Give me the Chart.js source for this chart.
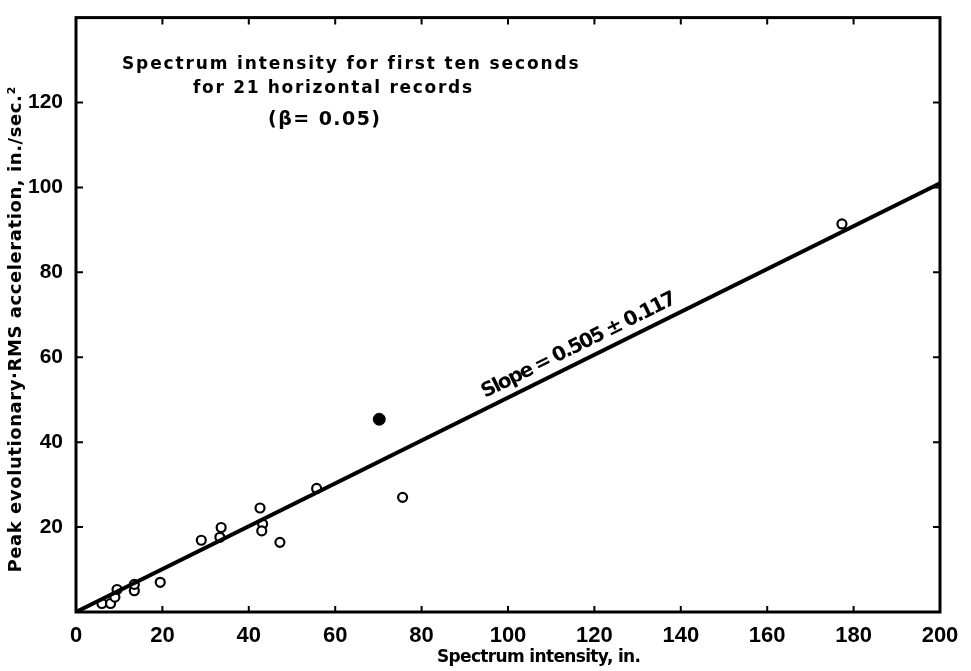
<!DOCTYPE html>
<html>
<head>
<meta charset="utf-8">
<script src="https://cdn.jsdelivr.net/npm/chart.js@4"></script>
<style>
  html, body { margin: 0; padding: 0; background: #fff; }
  canvas { display: block; }
</style>
</head>
<body>
<canvas id="intensityChart" width="971" height="671"></canvas>
<script>
// spectrum intensity (in.) vs peak evolutionary RMS acceleration (in./sec^2)
const recordIntensity = [6, 8, 9, 9.5, 13.5, 13.5, 19.5, 29, 33.3, 33.6, 42.6, 43.2, 43, 47.2, 55.7, 75.6, 177.3];
const recordAccel = [2, 2, 3.5, 5.3, 5, 6.5, 7, 16.9, 17.6, 19.9, 24.5, 20.7, 19.1, 16.4, 29.1, 27, 91.4];

// solid dot (coincident records)
const solidIntensity = [70.2];
const solidAccel = [45.4];

// fitted line through the origin
const slope = 0.505;
const slopeError = 0.117;
const fitRange = [0, 200];

const xTicks = [0, 20, 40, 60, 80, 100, 120, 140, 160, 180, 200];
const yTicks = [20, 40, 60, 80, 100, 120];

const titleLines = [
  "Spectrum intensity for first ten seconds",
  "for 21 horizontal records",
  "(\u03B2= 0.05)",
];

const toPoints = (xs, ys) => xs.map((x, i) => ({ x: x, y: ys[i] }));

const tickFont = "'Liberation Sans', sans-serif";
const letterFont = "'DejaVu Sans', sans-serif";

// frame, inward tick marks and all the lettering
const paperPlugin = {
  id: "paper",
  afterDatasetsDraw(chart) {
    const { ctx, chartArea: a, scales } = chart;
    const xs = scales.x;
    const ys = scales.y;
    ctx.save();
    ctx.strokeStyle = "#000";
    ctx.lineWidth = 3;
    ctx.strokeRect(a.left, a.top, a.right - a.left, a.bottom - a.top);

    ctx.lineWidth = 2;
    ctx.beginPath();
    xTicks.slice(1, -1).forEach((v) => {
      const px = xs.getPixelForValue(v);
      ctx.moveTo(px, a.bottom);
      ctx.lineTo(px, a.bottom - 6);
      ctx.moveTo(px, a.top);
      ctx.lineTo(px, a.top + 7);
    });
    yTicks.forEach((v) => {
      const py = ys.getPixelForValue(v);
      ctx.moveTo(a.left, py);
      ctx.lineTo(a.left + 7, py);
      ctx.moveTo(a.right, py);
      ctx.lineTo(a.right - 7, py);
    });
    ctx.stroke();

    ctx.fillStyle = "#000";
    ctx.textBaseline = "middle";

    // text stretched to a given width, like hand lettering
    const spread = (text, x, y, width, align) => {
      ctx.letterSpacing = "0px";
      const w = ctx.measureText(text).width;
      ctx.letterSpacing = (width - w) / (text.length - 1) + "px";
      ctx.textAlign = "left";
      const left = align === "center" ? x - width / 2 : x;
      ctx.fillText(text, left, y);
      ctx.letterSpacing = "0px";
    };

    ctx.font = "bold 17px " + letterFont;
    spread(titleLines[0], a.left + 46, a.top + 47, 456);
    spread(titleLines[1], a.left + 117, a.top + 71, 279);
    ctx.font = "bold 19px " + letterFont;
    spread(titleLines[2], a.left + 192, a.top + 102, 112);

    // slope note laid along the fitted line
    const x0 = xs.getPixelForValue(fitRange[0]);
    const y0 = ys.getPixelForValue(slope * fitRange[0]);
    const x1 = xs.getPixelForValue(fitRange[1]);
    const y1 = ys.getPixelForValue(slope * fitRange[1]);
    const ang = Math.atan2(y1 - y0, x1 - x0);
    const at = 118;
    const lx = xs.getPixelForValue(at);
    const ly = ys.getPixelForValue(slope * at);
    ctx.save();
    ctx.translate(lx + Math.sin(ang) * 15, ly - Math.cos(ang) * 15);
    ctx.rotate(ang);
    ctx.font = "bold 20px " + letterFont;
    spread("Slope = " + slope.toFixed(3) + " \u00B1 " + slopeError, 0, 0, 215, "center");
    ctx.restore();

    // axis titles
    ctx.font = "bold 17px " + letterFont;
    spread("Spectrum intensity, in.", a.left + 463, a.bottom + 46, 204, "center");
    ctx.save();
    ctx.translate(16, a.top + 312);
    ctx.rotate(-Math.PI / 2);
    ctx.font = "bold 18px " + letterFont;
    spread("Peak evolutionary\u00B7RMS acceleration, in./sec.\u00B2", 0, 0, 486, "center");
    ctx.restore();
    ctx.restore();
  },
};

new Chart(document.getElementById("intensityChart"), {
  type: "scatter",
  data: {
    datasets: [
      {
        type: "line",
        data: fitRange.map((x) => ({ x: x, y: slope * x })),
        borderColor: "#000",
        borderWidth: 4,
        pointRadius: 0,
        fill: false,
      },
      {
        data: toPoints(recordIntensity, recordAccel),
        pointRadius: 4.5,
        pointBorderWidth: 2.2,
        pointBackgroundColor: "#fff",
        pointBorderColor: "#000",
      },
      {
        data: toPoints(solidIntensity, solidAccel),
        pointRadius: 6,
        pointBorderWidth: 1,
        pointBackgroundColor: "#000",
        pointBorderColor: "#000",
      },
    ],
  },
  options: {
    responsive: false,
    animation: false,
    events: [],
    layout: {
      padding: { left: 0, right: 31, top: 10, bottom: 0 },
    },
    plugins: {
      legend: { display: false },
      tooltip: { enabled: false },
    },
    scales: {
      x: {
        type: "linear",
        min: 0,
        max: 200,
        grid: { display: false },
        border: { display: false },
        afterFit: (scale) => {
          scale.height = 59;
        },
        afterBuildTicks: (scale) => {
          scale.ticks = xTicks.map((v) => ({ value: v }));
        },
        ticks: {
          padding: 3,
          color: "#000",
          font: { family: tickFont, weight: "bold", size: 22 },
        },
      },
      y: {
        type: "linear",
        min: 0,
        max: 140,
        grid: { display: false },
        border: { display: false },
        afterFit: (scale) => {
          scale.width = 76;
        },
        afterBuildTicks: (scale) => {
          scale.ticks = yTicks.map((v) => ({ value: v }));
        },
        ticks: {
          padding: 5,
          color: "#000",
          font: { family: tickFont, weight: "bold", size: 21 },
        },
      },
    },
  },
  plugins: [paperPlugin],
});
</script>
</body>
</html>
